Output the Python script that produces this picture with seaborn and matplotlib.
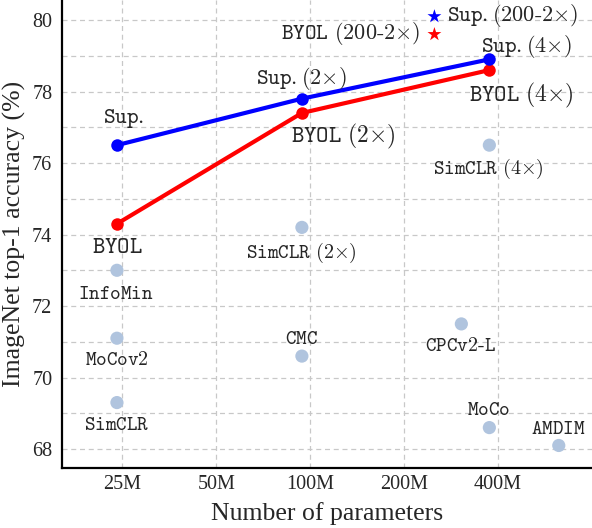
import matplotlib
matplotlib.use("Agg")
import matplotlib.pyplot as plt
import numpy as np
import pandas as pd
import seaborn as sns
from matplotlib.ticker import FixedLocator, NullFormatter, MultipleLocator

# ---------------- data ----------------
sup_params = [24, 94, 375]          # millions of parameters
sup_acc = [76.5, 77.8, 78.9]
sup_labels = [r"$\mathtt{Sup.}$", r"$\mathtt{Sup.}(2{\times})$", r"$\mathtt{Sup.}(4{\times})$"]

byol_params = [24, 94, 375]
byol_acc = [74.3, 77.4, 78.6]
byol_labels = [r"$\mathtt{BYOL}$", r"$\mathtt{BYOL}\ (2{\times})$", r"$\mathtt{BYOL}\ (4{\times})$"]

star_params = [250, 250]
star_acc = [80.1, 79.6]
star_labels = [r"$\mathtt{Sup.}(200\text{-}2{\times})$", r"$\mathtt{BYOL}\ (200\text{-}2{\times})$"]

other_labels = [r"$\mathtt{SimCLR}\ (4{\times})$", r"$\mathtt{SimCLR}\ (2{\times})$",
                r"$\mathtt{InfoMin}$", r"$\mathtt{MoCov2}$", r"$\mathtt{SimCLR}$",
                r"$\mathtt{CMC}$", r"$\mathtt{CPCv2\text{-}L}$", r"$\mathtt{MoCo}$", r"$\mathtt{AMDIM}$"]
other_params = [375, 94, 24, 24, 24, 94, 305, 375, 626]
other_acc = [76.5, 74.2, 73.0, 71.1, 69.3, 70.6, 71.5, 68.6, 68.1]

xticks = [25, 50, 100, 200, 400]
xtick_labels = ["25M", "50M", "100M", "200M", "400M"]
yticks = [68, 70, 72, 74, 76, 78, 80]

# ---------------- style ----------------
sns.set_style("white")
plt.rcParams["font.family"] = ["Liberation Serif", "DejaVu Serif"]
plt.rcParams["mathtext.fontset"] = "cm"

fig = plt.figure(figsize=(5.92, 5.28), dpi=100)
ax = fig.add_axes([62 / 592, 60 / 528, 1 - 62 / 592, 1 - 60 / 528])

ax.set_xscale("log", base=2)
ax.set_xlim(16, 800)
ax.set_ylim(67.47, 80.56)

grid_kw = dict(color="#c8c8c8", linestyle=(0, (4, 3)), linewidth=0.9)
ax.xaxis.set_major_locator(FixedLocator(xticks))
ax.set_xticklabels(xtick_labels)
ax.xaxis.set_minor_locator(FixedLocator([20, 30, 35, 40, 45, 60, 70, 80, 90,
                                         120, 140, 160, 180, 240, 280, 320, 360, 480, 560, 640, 720]))
ax.xaxis.set_minor_formatter(NullFormatter())
ax.yaxis.set_major_locator(FixedLocator(yticks))
ax.yaxis.set_minor_locator(MultipleLocator(1))
ax.grid(True, which="major", axis="x", **grid_kw)
ax.grid(True, which="both", axis="y", **grid_kw)
ax.set_axisbelow(True)

ax.tick_params(axis="both", which="major", direction="in", length=4, width=1,
               labelsize=14.5, color="black")
ax.tick_params(axis="x", which="major", pad=5)
ax.tick_params(axis="y", which="major", pad=7)
ax.tick_params(axis="x", which="minor", direction="in", length=2, width=0.6)
ax.tick_params(axis="y", which="minor", length=0)

for s in ["top", "right"]:
    ax.spines[s].set_visible(False)
for s in ["left", "bottom"]:
    ax.spines[s].set_color("black")
    ax.spines[s].set_linewidth(1.6)

# ---------------- marks ----------------
other_df = pd.DataFrame({"params": other_params, "acc": other_acc})
sns.scatterplot(data=other_df, x="params", y="acc", ax=ax, color="#b0c4de",
                s=90, edgecolor="none", zorder=3)

sup_df = pd.DataFrame({"params": sup_params, "acc": sup_acc})
byol_df = pd.DataFrame({"params": byol_params, "acc": byol_acc})
sns.lineplot(data=byol_df, x="params", y="acc", ax=ax, color="#ff0000", linewidth=3,
             marker="o", markersize=9, markeredgewidth=0, zorder=4)
sns.lineplot(data=sup_df, x="params", y="acc", ax=ax, color="#0000ff", linewidth=3,
             marker="o", markersize=9, markeredgewidth=0, zorder=5)

star_df = pd.DataFrame({"params": star_params, "acc": star_acc, "kind": ["Sup", "BYOL"]})
sns.scatterplot(data=star_df, x="params", y="acc", hue="kind", palette={"Sup": "#0000ff", "BYOL": "#ff0000"},
                marker="*", s=110, edgecolor="none", ax=ax, legend=False, zorder=6)

# ---------------- labels ----------------
def lab(txt, x, y, dx, dy, size, ha="center"):
    ax.annotate(txt, (x, y), xytext=(dx, dy), textcoords="offset pixels",
                ha=ha, va="center", fontsize=size, zorder=7)

sup_off = [(7, 27), (-1, 20), (37, 13)]
for t, x, y, (dx, dy) in zip(sup_labels, sup_params, sup_acc, sup_off):
    lab(t, x, y, dx, dy, 16)
byol_off = [(0, -24), (41, -23), (32, -25)]
for t, x, y, (dx, dy) in zip(byol_labels, byol_params, byol_acc, byol_off):
    lab(t, x, y, dx, dy, 17)
lab(star_labels[0], star_params[0], star_acc[0], 13, 1, 16, ha="left")
lab(star_labels[1], star_params[1], star_acc[1], -14, 1, 16, ha="right")

other_off = [(-1, -24), (-1, -26), (-1, -24), (0, -22), (0, -23), (0, 17), (-1, -23), (-1, 17), (0, 16)]
for t, x, y, (dx, dy) in zip(other_labels, other_params, other_acc, other_off):
    lab(t, x, y, dx, dy, 14.5)

ax.set_xlabel("Number of parameters", fontsize=18.5, labelpad=6)
ax.set_ylabel("ImageNet top-1 accuracy (%)", fontsize=18.5, labelpad=4)

fig.savefig("out.png", dpi=100)
